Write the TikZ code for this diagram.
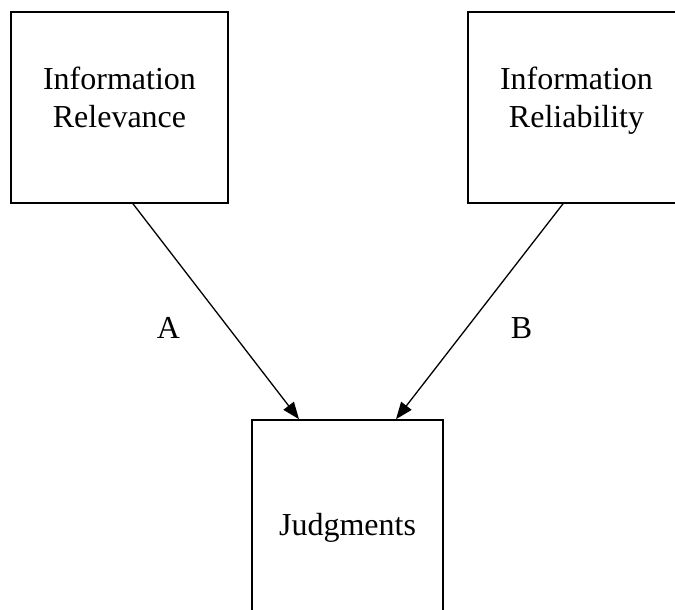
\documentclass[tikz,border=0pt]{standalone}
\usepackage{fontspec}
\setmainfont{Liberation Serif}
\usetikzlibrary{arrows.meta,calc}
\begin{document}
\begin{tikzpicture}[x=1pt,y=-1pt,
  box/.style={draw=black,line width=1.6pt,rectangle,inner sep=0pt},
  txt/.style={font=\fontsize{32}{38}\selectfont,align=center,inner sep=0pt},
  link/.style={line width=1.3pt,-{Triangle[length=17pt,width=13pt]}}]
  \useasboundingbox (0,0) rectangle (675,610);
  \clip (0,0) rectangle (675,610);
  % three boxes
  \node[box,minimum width=217pt,minimum height=191pt] (rel) at (119.5,107.5) {};
  \node[box,minimum width=217pt,minimum height=191pt] (reli) at (576.5,107.5) {};
  \node[box,minimum width=191pt,minimum height=200pt] (judg) at (347.5,520) {};
  % box captions (base anchor sits on the last line)
  \node[txt,anchor=base] (reltext) at (119.5,127) {Information\\Relevance};
  \node[txt,anchor=base] (relitext) at (576.5,127) {Information\\Reliability};
  \node[txt,anchor=base] (judgtext) at (347.5,535) {Judgments};
  % paths into the judgments box
  \draw[link] ($(rel.south)+(13.5,0)$) -- ($(judg.north)+(-48.5,0)$);
  \draw[link] ($(reli.south)+(-13.5,0)$) -- ($(judg.north)+(48.5,0)$);
  % path labels
  \node[txt,anchor=base] (pa) at (168.5,338) {A};
  \node[txt,anchor=base] (pb) at (521.5,338) {B};
\end{tikzpicture}
\end{document}
